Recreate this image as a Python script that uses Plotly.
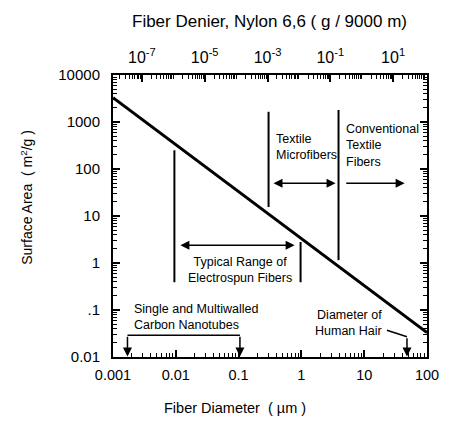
import math
import plotly.graph_objects as go

# ---- data ----
diameter_um = [0.001, 100]          # fiber diameter (µm)
surface_area = [3300, 0.033]        # m^2/g

x_tick_vals = [0.001, 0.01, 0.1, 1, 10, 100]
x_tick_text = ["0.001", "0.01", "0.1", "1", "10", "100"]
y_tick_vals = [0.01, 0.1, 1, 10, 100, 1000, 10000]
y_tick_text = ["0.01", ".1", "1", "10", "100", "1000", "10000"]
denier_tick_vals = [1e-7, 1e-5, 1e-3, 1e-1, 1e1]
denier_tick_text = ["10<sup>-7</sup>", "10<sup>-5</sup>", "10<sup>-3</sup>", "10<sup>-1</sup>", "10<sup>1</sup>"]
denier_per_um2 = 0.012  # denier = k * d^2 (as drawn)

# region markers (diameter µm, surface area m2/g)
electrospun_lo, electrospun_hi = 0.0095, 0.97
micro_lo, conv_lo = 0.30, 3.9
nanotube_lo, nanotube_hi = 0.0017, 0.105
hair = 48

FONT = "Liberation Sans, Arial, sans-serif"
lg = math.log10

fig = go.Figure()
fig.add_trace(go.Scatter(x=diameter_um, y=surface_area, mode="lines",
                         line=dict(color="black", width=3), showlegend=False, hoverinfo="skip"))
fig.add_trace(go.Scatter(x=[denier_per_um2 * d ** 2 for d in diameter_um], y=surface_area,
                         mode="lines", line=dict(color="rgba(0,0,0,0)", width=0),
                         xaxis="x2", showlegend=False, hoverinfo="skip"))

def minor_vals(lo, hi):
    out = []
    for e in range(lo, hi):
        for m in range(2, 10):
            out.append(m * 10 ** e)
    return out

axis_common = dict(type="log", showgrid=False, zeroline=False, showline=True,
                   linecolor="black", linewidth=2, ticks="inside", ticklen=7,
                   tickwidth=1.5, tickcolor="black")

fig.update_layout(
    width=451, height=422,
    margin=dict(l=113, r=18, t=75, b=65),
    paper_bgcolor="white", plot_bgcolor="white",
    xaxis=dict(**axis_common, range=[-3, 2], tickmode="array",
               tickvals=x_tick_vals, ticktext=x_tick_text, ticklabelstandoff=4,
               tickfont=dict(family=FONT, size=14.5, color="black"),
               minor=dict(tickmode="array", tickvals=minor_vals(-3, 2), ticks="inside",
                          ticklen=4, tickcolor="black", tickwidth=1)),
    xaxis2=dict(**axis_common, overlaying="x", side="top",
                range=[lg(denier_per_um2) - 6, lg(denier_per_um2) + 4],
                tickmode="array", tickvals=denier_tick_vals, ticktext=denier_tick_text,
                ticklabelstandoff=4,
                tickfont=dict(family=FONT, size=16, color="black"),
                minor=dict(tickmode="array",
                           tickvals=minor_vals(-8, 2) + [10 ** e for e in range(-8, 3, 2)],
                           ticks="inside", ticklen=4, tickcolor="black", tickwidth=1)),
    yaxis=dict(**axis_common, range=[-2, 4], mirror="ticks", tickmode="array",
               tickvals=y_tick_vals, ticktext=y_tick_text, ticklabelstandoff=8,
               tickfont=dict(family=FONT, size=15, color="black"),
               minor=dict(tickmode="array", tickvals=minor_vals(-2, 4), ticks="inside",
                          ticklen=4, tickcolor="black", tickwidth=1)),
)

# vertical boundary lines
def vline(x, y0, y1):
    fig.add_shape(type="line", xref="x", yref="y", x0=x, x1=x, y0=y0, y1=y1,
                  line=dict(color="black", width=2))

vline(electrospun_lo, 0.39, 250)
vline(electrospun_hi, 0.39, 2.8)
vline(micro_lo, 15.5, 1650)
vline(conv_lo, 1.15, 1800)

def arrow(x_head, y_head, x_tail, y_tail, both=False):
    fig.add_annotation(x=lg(x_head), y=lg(y_head), ax=lg(x_tail), ay=lg(y_tail),
                       xref="x", yref="y", axref="x", ayref="y", text="",
                       showarrow=True, arrowhead=2, arrowsize=1.2, arrowwidth=1.5,
                       arrowcolor="black", arrowside="end+start" if both else "end")

arrow(0.78, 2.4, 0.0112, 2.4, both=True)
arrow(3.5, 50, 0.34, 50, both=True)
arrow(44, 50, 4.9, 50)

# nanotube bracket
fig.add_shape(type="line", xref="x", yref="y", x0=nanotube_lo, x1=nanotube_hi, y0=0.029, y1=0.029,
              line=dict(color="black", width=1.5))
arrow(nanotube_lo, 0.0102, nanotube_lo, 0.029)
arrow(nanotube_hi, 0.0102, nanotube_hi, 0.029)

# human hair leader
fig.add_shape(type="line", xref="x", yref="y", x0=23, x1=hair, y0=0.037, y1=0.027,
              line=dict(color="black", width=1.5))
arrow(hair, 0.0102, hair, 0.027)

def label(x, y, text, anchor="left", size=12.5):
    fig.add_annotation(x=lg(x), y=lg(y), xref="x", yref="y", text=text, showarrow=False,
                       xanchor=anchor, yanchor="middle", align=anchor,
                       font=dict(family=FONT, size=size, color="black"))

label(0.36, 300, "Textile<br>Microfibers")
label(4.8, 320, "Conventional<br>Textile<br>Fibers")
label(0.107, 0.71, "Typical Range of<br>Electrospun Fibers", anchor="center")
label(0.002, 0.071, "Single and Multiwalled<br>Carbon Nanotubes")
label(21, 0.053, "Diameter of<br>Human Hair", anchor="right")

# axis titles
fig.add_annotation(xref="paper", yref="paper", x=0.497, y=1.188, xanchor="center", yanchor="middle",
                   text="Fiber Denier, Nylon 6,6 ( g / 9000 m)",
                   showarrow=False, font=dict(family=FONT, size=17, color="black"))
fig.add_annotation(xref="paper", yref="paper", x=0.39, y=-0.181, xanchor="center", yanchor="middle",
                   text="Fiber Diameter  ( µm )",
                   showarrow=False, font=dict(family=FONT, size=14.5, color="black"))
fig.add_annotation(xref="paper", yref="paper", x=-0.275, y=0.567, xanchor="center", yanchor="middle",
                   text="Surface Area  ( m<sup>2</sup>/g )",
                   textangle=-90, showarrow=False, font=dict(family=FONT, size=14, color="black"))

fig.write_html("out.html")
